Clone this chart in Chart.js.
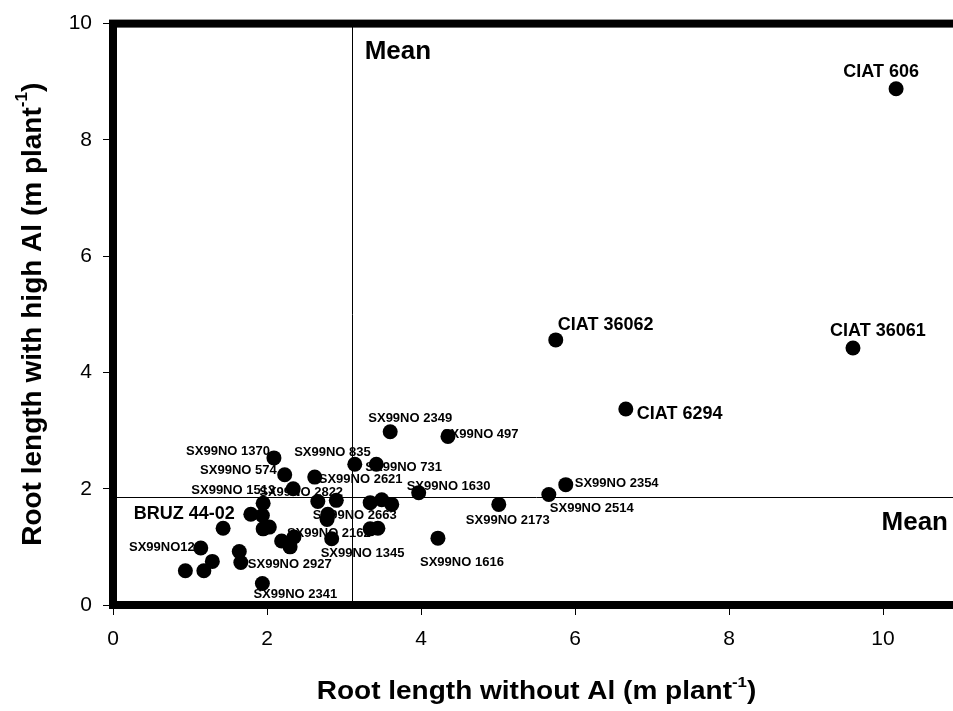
<!DOCTYPE html>
<html>
<head>
<meta charset="utf-8">
<script src="https://cdn.jsdelivr.net/npm/chart.js@4/dist/chart.umd.min.js"></script>
<style>
  html, body { margin: 0; padding: 0; background: #fff; overflow: hidden; }
  #wrap { width: 980px; height: 711px; }
</style>
</head>
<body>
<div id="wrap"><canvas id="chart_roots" width="980" height="711"></canvas></div>
<script>
// genotype names ("" = point without a label in the figure)
const genotypes = [
  "CIAT 606", "CIAT 36061", "CIAT 36062", "CIAT 6294",
  "SX99NO 2354", "SX99NO 2514", "SX99NO 2173", "SX99NO 1616", "SX99NO 1630",
  "SX99NO 497", "SX99NO 2349", "SX99NO 731", "SX99NO 835",
  "", "", "", "", "",
  "SX99NO 2621", "SX99NO 574", "SX99NO 1370", "SX99NO 2822",
  "", "", "SX99NO 2663", "", "SX99NO 1345",
  "SX99NO 1513", "BRUZ 44-02", "", "", "", "", "",
  "SX99NO 2162", "", "SX99NO12", "", "SX99NO 2927", "", "", "",
  "SX99NO 2341"
]
// root length without Al (m plant-1)
const rootNoAl = [
  10.17, 9.61, 5.75, 6.66,
  5.88, 5.66, 5.01, 4.22, 3.97,
  4.35, 3.60, 3.42, 3.14,
  3.34, 3.49, 3.62, 3.34, 3.44,
  2.62, 2.23, 2.09, 2.34,
  2.66, 2.90, 2.79, 2.78, 2.84,
  1.95, 1.79, 1.94, 1.95, 2.03, 1.43, 2.19,
  2.35, 2.30, 1.14, 1.64, 1.66, 1.29, 1.18, 0.94,
  1.94
]
// root length with high Al (m plant-1)
const rootHighAl = [
  8.88, 4.42, 4.56, 3.37,
  2.07, 1.90, 1.73, 1.15, 1.93,
  2.90, 2.98, 2.42, 2.42,
  1.76, 1.81, 1.73, 1.31, 1.32,
  2.20, 2.24, 2.53, 2.00,
  1.78, 1.80, 1.56, 1.47, 1.14,
  1.75, 1.56, 1.54, 1.31, 1.34, 1.32, 1.10,
  1.17, 1.00, 0.98, 0.92, 0.73, 0.75, 0.59, 0.59,
  0.37
]
const meanNoAl = 3.10
const meanHighAl = 1.86

// where each name sits next to its dot: [dx, dy, align]
const labelSpots = [
  [-15, -17, "center"], [25, -17, "center"], [2, -15, "left"], [11, 5, "left"],
  [9, -1, "left"], [1, 14, "left"], [9, 16, "center"], [24, 24, "center"], [-12, -6, "left"],
  [-6, -2, "left"], [20, -13, "center"], [-11, 3, "left"], [16, -12, "right"],
  null, null, null, null, null,
  [4, 2, "left"], [-8, -4, "right"], [-4, -6, "right"], [8, 4, "center"],
  null, null, [-15, 1, "left"], null, [-11, 15, "left"],
  [12, -13, "right"], [-16, 0, "right"], null, null, null, null, null,
  [-7, -4, "left"], null, [-6, -1, "right"], null, [7, 2, "left"], null, null, null,
  [-9, 11, "left"]
]

const fontFamily = "'Liberation Sans', Arial, sans-serif"
Chart.defaults.font.family = fontFamily
Chart.defaults.color = "#000"

//title with a raised "-1"; stretch widens the text sideways
function drawTitle(ctx, cx, cy, main, sup, tail, size, stretch) {
  const big = "bold " + size + "px " + fontFamily
  const small = "bold " + Math.round(size * 0.6) + "px " + fontFamily
  ctx.save()
  ctx.translate(cx, cy)
  ctx.scale(stretch, 1)
  ctx.font = big
  const w1 = ctx.measureText(main).width
  const w3 = ctx.measureText(tail).width
  ctx.font = small
  const w2 = ctx.measureText(sup).width
  let x = -(w1 + w2 + w3) / 2
  ctx.textAlign = "left"
  ctx.textBaseline = "middle"
  ctx.font = big
  ctx.fillText(main, x, 0)
  x += w1
  ctx.font = small
  ctx.fillText(sup, x, -size * 0.38)
  x += w2
  ctx.font = big
  ctx.fillText(tail, x, 0)
  ctx.restore()
}

const annotate = {
  id: "annotate",
  beforeDatasetsDraw(chart) {
    const { ctx, chartArea: a, scales: { x, y } } = chart
    ctx.save()

    //mean lines
    const mx = Math.round(x.getPixelForValue(meanNoAl)) + 0.5
    const my = Math.round(y.getPixelForValue(meanHighAl)) + 0.5
    ctx.strokeStyle = "#000"
    ctx.lineWidth = 1
    ctx.beginPath()
    ctx.moveTo(mx, a.top)
    ctx.lineTo(mx, a.bottom)
    ctx.moveTo(a.left, my)
    ctx.lineTo(a.right, my)
    ctx.stroke()

    //genotype names, drawn under the dots
    const pts = chart.getDatasetMeta(0).data
    ctx.fillStyle = "#000"
    ctx.textBaseline = "middle"
    for (let i = 0; i < genotypes.length; i++) {
      if (!genotypes[i] || !labelSpots[i]) continue
      const [dx, dy, align] = labelSpots[i]
      if (genotypes[i].startsWith("SX")) ctx.font = "bold 13px " + fontFamily
      else ctx.font = "bold 18px " + fontFamily
      ctx.textAlign = align
      ctx.fillText(genotypes[i], pts[i].x + dx, pts[i].y + dy)
    }
    ctx.restore()
  },
  afterDraw(chart) {
    const { ctx, chartArea: a, scales: { x, y } } = chart
    ctx.save()

    //thick frame
    ctx.strokeStyle = "#000"
    ctx.lineWidth = 8
    ctx.strokeRect(a.left, a.top, a.right - a.left, a.bottom - a.top)

    //"Mean" labels
    const mx = x.getPixelForValue(meanNoAl)
    const my = y.getPixelForValue(meanHighAl)
    ctx.fillStyle = "#000"
    ctx.font = "bold 26px " + fontFamily
    ctx.textBaseline = "middle"
    ctx.textAlign = "left"
    ctx.fillText("Mean", mx + 13, a.top + 28)
    ctx.textAlign = "right"
    ctx.fillText("Mean", a.right - 12, my + 26)

    //axis titles
    drawTitle(ctx, (a.left + a.right) / 2, 692, "Root length without Al (m plant", "-1", ")", 25, 1.12)
    ctx.translate(33, (a.top + a.bottom) / 2)
    ctx.rotate(-Math.PI / 2)
    drawTitle(ctx, 0, 0, "Root length with high Al (m plant", "-1", ")", 28, 1)
    ctx.restore()
  }
}

const points = rootNoAl.map((v, i) => ({ x: v, y: rootHighAl[i] }))

new Chart(document.getElementById("chart_roots").getContext("2d"), {
  type: "scatter",
  data: {
    datasets: [{
      data: points,
      backgroundColor: "#000",
      borderWidth: 0,
      pointRadius: 7.5,
      pointHoverRadius: 7.5
    }]
  },
  options: {
    responsive: false,
    animation: false,
    layout: { padding: { top: 15, right: 20, left: 0, bottom: 0 } },
    plugins: { legend: { display: false }, tooltip: { enabled: false } },
    scales: {
      x: {
        type: "linear",
        min: 0,
        max: 11,
        afterFit: scale => { scale.height = 106 },
        border: { display: false },
        grid: { drawOnChartArea: false, tickLength: 10, color: "#000" },
        ticks: { stepSize: 2, includeBounds: false, padding: 12, font: { size: 21 } }
      },
      y: {
        type: "linear",
        min: 0,
        max: 10,
        afterFit: scale => { scale.width = 113 },
        border: { display: false },
        grid: { drawOnChartArea: false, tickLength: 10, color: "#000" },
        ticks: { stepSize: 2, padding: 11, font: { size: 21 } }
      }
    }
  },
  plugins: [annotate]
})
</script>
</body>
</html>
